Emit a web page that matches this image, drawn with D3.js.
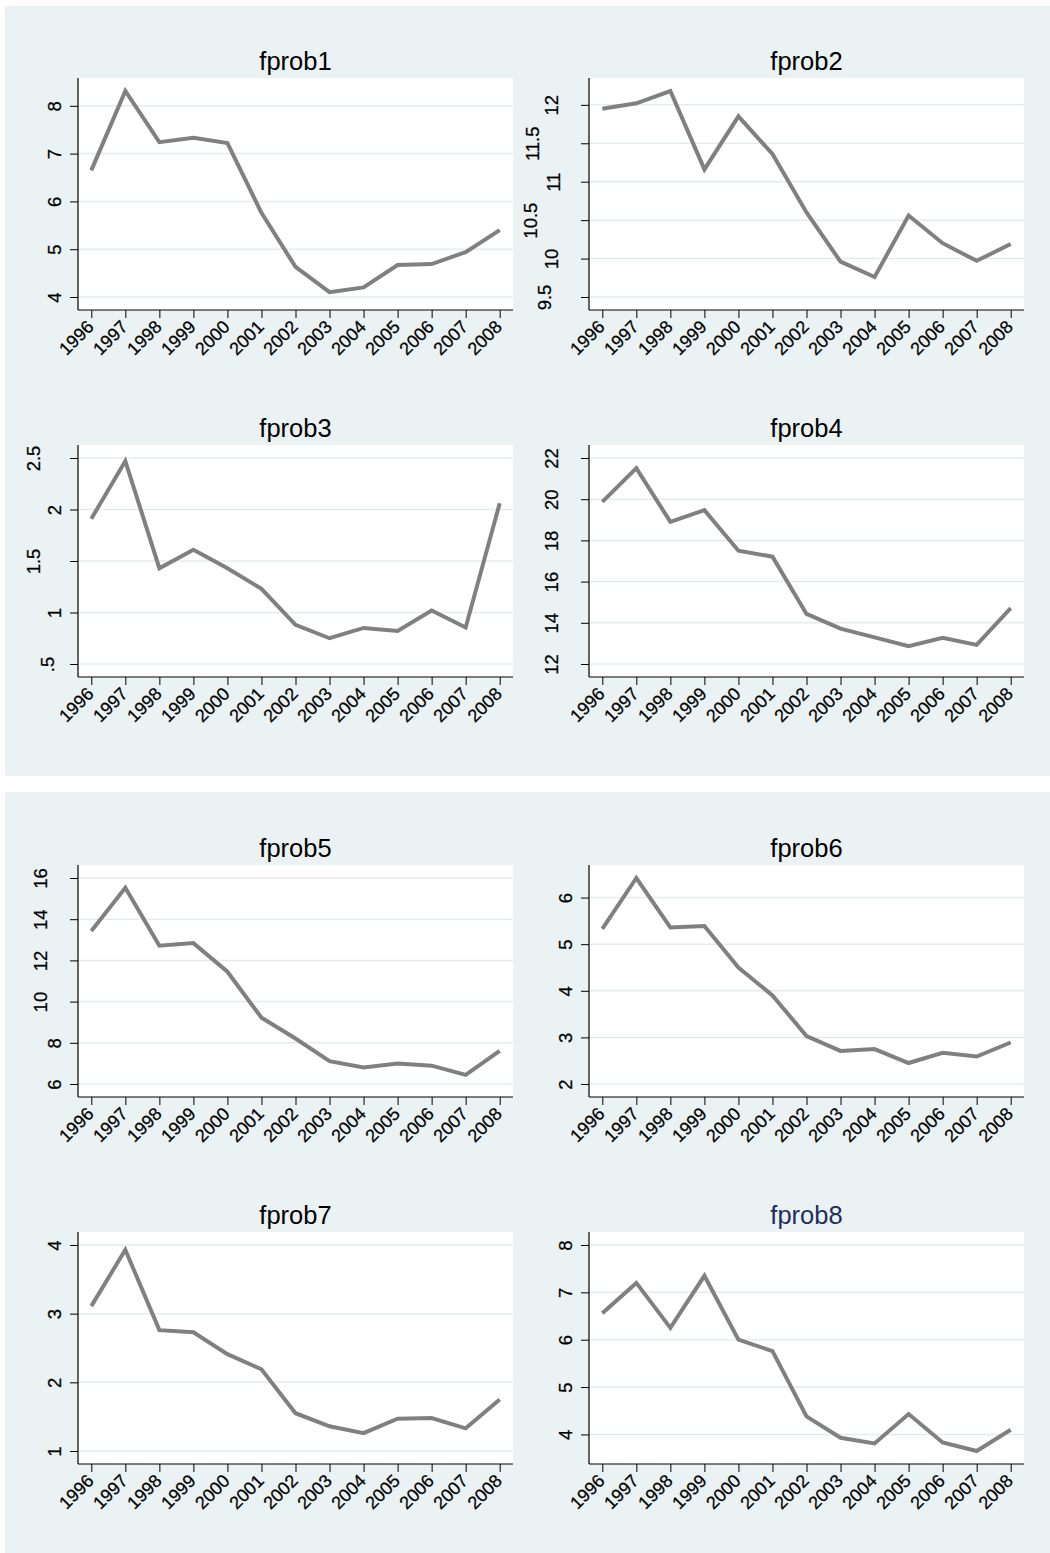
<!DOCTYPE html>
<html>
<head>
<meta charset="utf-8">
<script src="https://cdn.jsdelivr.net/npm/d3@7"></script>
<style>
    body { margin: 0; background: #ffffff; }
    svg text { font-family: "Liberation Sans", Arial, Helvetica, sans-serif; fill: #000; }
    .tick text { stroke: #000; stroke-width: 0.25px; }
</style>
</head>
<body>
<div id="chart"></div>
<script>
// data
const years = [1996, 1997, 1998, 1999, 2000, 2001, 2002, 2003, 2004, 2005, 2006, 2007, 2008];

const fprob1 = [6.65, 8.31, 7.24, 7.33, 7.22, 5.76, 4.63, 4.10, 4.20, 4.67, 4.69, 4.94, 5.40];
const fprob2 = [11.95, 12.02, 12.18, 11.16, 11.85, 11.36, 10.60, 9.96, 9.76, 10.56, 10.20, 9.97, 10.19];
const fprob3 = [1.91, 2.47, 1.43, 1.61, 1.43, 1.23, 0.88, 0.75, 0.85, 0.82, 1.02, 0.855, 2.06];
const fprob4 = [19.87, 21.51, 18.90, 19.47, 17.50, 17.21, 14.43, 13.72, 13.29, 12.87, 13.27, 12.93, 14.71];
const fprob5 = [13.43, 15.53, 12.71, 12.84, 11.45, 9.22, 8.21, 7.11, 6.80, 6.99, 6.89, 6.44, 7.61];
const fprob6 = [5.33, 6.42, 5.36, 5.39, 4.50, 3.90, 3.03, 2.71, 2.75, 2.45, 2.67, 2.59, 2.89];
const fprob7 = [3.11, 3.93, 2.76, 2.73, 2.41, 2.19, 1.55, 1.36, 1.26, 1.47, 1.48, 1.33, 1.75];
const fprob8 = [6.56, 7.20, 6.25, 7.35, 6.00, 5.76, 4.38, 3.93, 3.81, 4.43, 3.83, 3.65, 4.10];

const ticks1 = [4, 5, 6, 7, 8];
const ticks2 = [9.5, 10, 10.5, 11, 11.5, 12];
const ticks3 = [0.5, 1, 1.5, 2, 2.5];
const ticks4 = [12, 14, 16, 18, 20, 22];
const ticks5 = [6, 8, 10, 12, 14, 16];
const ticks6 = [2, 3, 4, 5, 6];
const ticks7 = [1, 2, 3, 4];
const ticks8 = [4, 5, 6, 7, 8];

const titles = ["fprob1", "fprob2", "fprob3", "fprob4", "fprob5", "fprob6", "fprob7", "fprob8"];

class TrendChart {
    constructor(_svg, _values, _ticks, _config = {}) {
        this.config = {
            left: _config.left,
            top: _config.top,
            width: _config.width || 435,
            height: _config.height || 232,
            pad: 13,
            title: _config.title,
            titleColor: _config.titleColor || "#000",
            tickSize: 8,
            lineColor: "#808080",
            gridColor: "#e4ecee"
        }
        this.svg = _svg;
        this.values = _values;
        this.ticks = _ticks;
        this.initVis();
    }

    initVis() {
        let vis = this;
        let { left, top, width, height, pad } = vis.config;

        vis.g = vis.svg.append("g")
            .attr("transform", `translate(${left},${top})`);

        vis.x = d3.scaleLinear()
            .domain(d3.extent(years))
            .range([pad + 0.3, width - pad - 0.3]);

        let lo = Math.min(d3.min(vis.values), d3.min(vis.ticks));
        let hi = Math.max(d3.max(vis.values), d3.max(vis.ticks));
        vis.y = d3.scaleLinear()
            .domain([lo, hi])
            .range([height - pad, pad]);

        vis.renderVis();
    }

    renderVis() {
        let vis = this;
        let { width, height, tickSize } = vis.config;

        // plot region
        vis.g.append("rect")
            .attr("width", width)
            .attr("height", height)
            .attr("fill", "#ffffff");

        // grid
        vis.g.selectAll("line.grid")
            .data(vis.ticks)
            .join("line")
            .attr("class", "grid")
            .attr("x1", 0)
            .attr("x2", width)
            .attr("y1", d => vis.y(d))
            .attr("y2", d => vis.y(d))
            .attr("stroke", vis.config.gridColor)
            .attr("stroke-width", 1.5);

        // series
        let line = d3.line()
            .x((d, i) => vis.x(years[i]))
            .y(d => vis.y(d));

        vis.g.append("path")
            .datum(vis.values)
            .attr("d", line)
            .attr("fill", "none")
            .attr("stroke", vis.config.lineColor)
            .attr("stroke-width", 4)
            .attr("stroke-linejoin", "miter")
            .attr("stroke-miterlimit", 3);

        // axes
        let fmt = d => d3.format("")(d).replace(/^0\./, ".");

        let xAxis = vis.g.append("g")
            .attr("transform", `translate(0,${height})`)
            .call(d3.axisBottom(vis.x).tickValues(years).tickFormat(d3.format("d")).tickSize(tickSize));
        xAxis.select(".domain").remove();
        xAxis.selectAll(".tick line").attr("stroke", "#000");
        xAxis.selectAll(".tick text")
            .attr("x", 0)
            .attr("y", 0)
            .attr("dy", null)
            .attr("text-anchor", "end")
            .attr("font-size", 18)
            .attr("font-family", null)
            .attr("transform", "translate(3,18) rotate(-45)");

        let yAxis = vis.g.append("g")
            .call(d3.axisLeft(vis.y).tickValues(vis.ticks).tickFormat(fmt).tickSize(tickSize));
        yAxis.select(".domain").remove();
        yAxis.selectAll(".tick line").attr("stroke", "#000");
        yAxis.selectAll(".tick text")
            .attr("font-size", 18.5)
            .attr("font-family", null)
            .attr("x", 0)
            .attr("dy", null)
            .attr("text-anchor", "middle")
            .each(function () {
                let w = this.getComputedTextLength();
                let cx = -10.3 - 1.33 * w;
                d3.select(this).attr("transform", `translate(${cx + 6.6},0) rotate(-90)`);
            });

        // axis lines
        vis.g.append("line")
            .attr("x1", 0).attr("x2", width)
            .attr("y1", height).attr("y2", height)
            .attr("stroke", "#000").attr("stroke-width", 1.2);
        vis.g.append("line")
            .attr("x1", 0).attr("x2", 0)
            .attr("y1", 0).attr("y2", height)
            .attr("stroke", "#000").attr("stroke-width", 1.2);

        // title
        vis.g.append("text")
            .attr("x", width / 2)
            .attr("y", -8)
            .attr("text-anchor", "middle")
            .attr("font-size", 25.5)
            .style("fill", vis.config.titleColor)
            .text(vis.config.title);
    }
}

const svg = d3.select("#chart")
    .append("svg")
    .attr("width", 1050)
    .attr("height", 1553);

// the two graph regions
svg.selectAll("rect.region")
    .data([6, 792])
    .join("rect")
    .attr("class", "region")
    .attr("x", 5)
    .attr("y", d => d)
    .attr("width", 1045)
    .attr("height", 770)
    .attr("fill", "#eaf2f3");

const series = [fprob1, fprob2, fprob3, fprob4, fprob5, fprob6, fprob7, fprob8];
const tickSets = [ticks1, ticks2, ticks3, ticks4, ticks5, ticks6, ticks7, ticks8];
const colLeft = [78, 589];
const rowTop = [78, 445, 865, 1232];

series.forEach((vals, i) => {
    new TrendChart(svg, vals, tickSets[i], {
        left: colLeft[i % 2],
        top: rowTop[Math.floor(i / 2)],
        title: titles[i],
        titleColor: i === 7 ? "#1f2e5c" : "#000"
    });
});
</script>
</body>
</html>
